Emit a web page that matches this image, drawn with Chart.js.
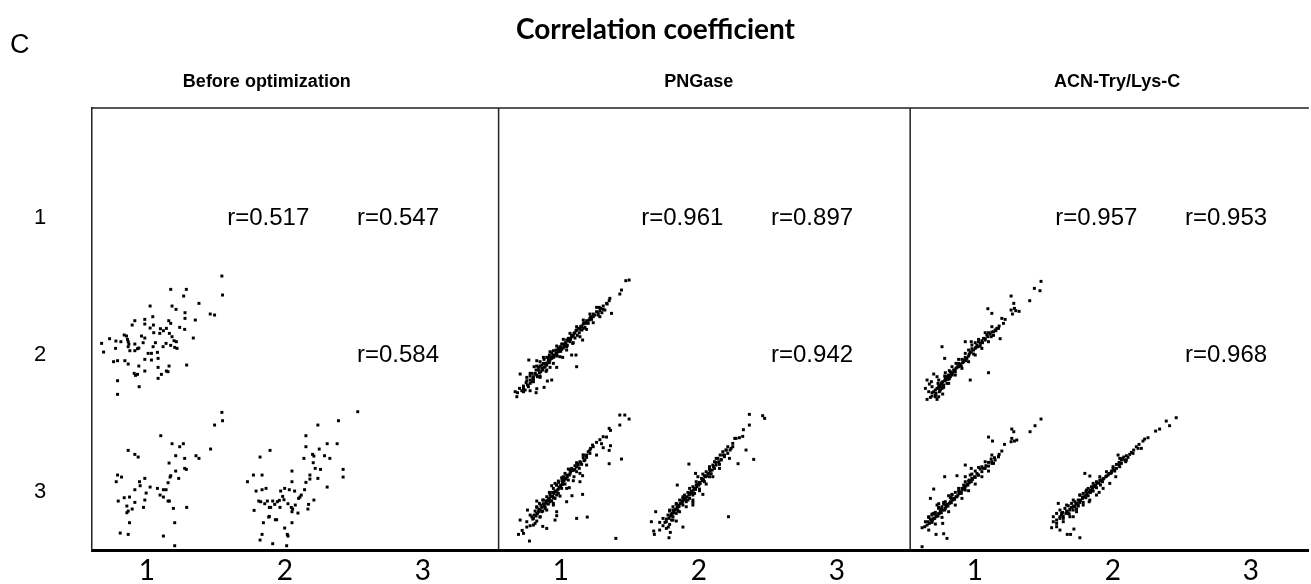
<!DOCTYPE html>
<html>
<head>
<meta charset="utf-8">
<script src="https://cdn.jsdelivr.net/npm/chart.js@4/dist/chart.umd.min.js"></script>
<style>
  html, body { margin: 0; padding: 0; background: #fff; overflow: hidden; }
</style>
</head>
<body>
<canvas id="corr" width="1311" height="584"></canvas>
<script>
// panels and replicate labels
const panels = ["Before optimization", "PNGase", "ACN-Try/Lys-C"];
const replicates = ["1", "2", "3"];
// r for pairs (1,2), (1,3), (2,3) in each panel
const rBefore = [0.517, 0.547, 0.584];
const rPNGase = [0.961, 0.897, 0.942];
const rACN = [0.957, 0.953, 0.968];

// scatter values (arbitrary intensity units) read from each lower cell
const before21 = [[38.2,37.2],[38.4,31.5],[22.8,33.2],[27.5,33.2],[26.7,31.2],[31.3,29.0],[16.6,28.2],[23.2,28.2],[24.4,27.2],[27.1,26.2],[27.1,24.5],[34.7,25.8],[36.0,25.5],[17.4,25.0],[30.2,24.0],[12.0,23.8],[15.0,24.2],[22.2,23.8],[22.8,23.0],[11.2,22.5],[15.0,22.8],[17.6,22.5],[16.6,21.6],[19.7,21.4],[21.5,21.5],[25.5,21.8],[27.0,21.2],[20.6,20.8],[17.7,20.2],[19.5,20.0],[22.4,20.0],[8.8,19.5],[9.5,19.2],[23.2,19.0],[14.0,19.2],[15.0,18.6],[29.6,18.6],[4.4,18.4],[6.3,17.7],[9.8,18.2],[10.0,17.5],[7.8,17.5],[10.2,16.8],[12.0,16.8],[18.2,17.2],[21.4,17.0],[23.8,17.8],[24.5,17.5],[2.0,17.0],[10.0,16.0],[13.2,15.6],[14.5,17.2],[17.5,16.0],[20.5,16.0],[22.8,16.4],[24.0,15.8],[24.7,15.5],[6.2,15.5],[10.5,14.8],[12.0,14.8],[12.8,15.4],[16.0,14.0],[17.0,14.0],[18.8,14.3],[2.6,14.4],[15.0,12.2],[17.0,12.0],[19.0,12.5],[5.6,11.5],[6.8,11.8],[9.0,11.8],[10.0,10.8],[19.0,9.8],[22.3,10.2],[27.6,10.5],[13.2,10.2],[15.0,8.7],[11.8,8.0],[12.2,7.4],[12.8,7.7],[20.0,7.7],[21.5,8.7],[22.0,8.5],[19.0,6.5],[6.8,5.8],[13.3,4.0],[6.8,1.7]];
const before31 = [[35.2,41.3],[35.4,38.8],[33.0,37.5],[16.8,34.3],[20.2,31.9],[23.6,31.9],[22.5,31.0],[31.8,30.3],[7.0,29.9],[9.0,28.7],[10.0,27.9],[21.3,28.3],[24.0,27.5],[27.4,28.3],[28.3,27.5],[19.3,26.1],[24.0,24.5],[24.5,24.2],[21.3,23.7],[19.8,22.3],[19.6,21.9],[22.2,21.5],[3.8,22.5],[5.0,21.9],[3.4,20.5],[10.4,20.5],[12.0,21.5],[10.6,19.3],[13.6,18.9],[15.8,18.5],[19.0,20.2],[17.6,18.1],[18.4,18.1],[9.0,18.1],[12.4,17.1],[16.6,16.5],[17.6,15.9],[4.0,14.7],[5.8,15.7],[7.4,15.9],[9.0,14.3],[12.0,15.0],[19.0,14.7],[19.4,14.7],[6.6,13.2],[8.2,12.3],[11.6,12.8],[20.6,12.5],[24.6,12.8],[7.0,11.7],[6.6,11.2],[7.4,8.2],[21.0,8.2],[4.6,5.1],[7.0,4.7],[17.6,4.2],[21.0,1.3]];
const before32 = [[35.6,41.5],[29.8,38.8],[23.6,37.5],[20.0,34.3],[9.2,29.9],[6.2,27.9],[20.0,31.0],[24.0,30.3],[26.4,31.9],[29.4,31.9],[19.4,27.5],[22.0,28.7],[22.4,28.2],[25.6,28.3],[27.2,27.5],[22.2,26.2],[22.8,24.5],[24.4,24.2],[31.2,24.2],[15.8,23.7],[4.2,22.5],[6.8,22.5],[21.2,22.5],[21.2,21.3],[23.6,21.5],[31.2,21.9],[2.4,20.5],[15.8,20.5],[20.0,20.3],[19.6,18.1],[26.4,18.9],[5.0,17.7],[6.8,18.1],[8.0,18.5],[12.4,17.7],[13.6,18.5],[15.0,18.1],[16.6,17.7],[18.6,16.5],[18.2,15.9],[17.8,15.5],[5.8,14.7],[6.4,14.5],[8.4,14.7],[10.0,14.7],[11.4,14.5],[12.0,14.9],[13.0,16.1],[13.4,15.1],[7.6,13.9],[10.6,13.7],[9.4,12.8],[9.0,12.8],[12.2,12.8],[14.6,13.9],[15.6,12.8],[16.0,12.3],[16.8,13.5],[20.8,13.7],[22.4,15.0],[4.4,11.9],[20.6,12.3],[15.8,11.5],[17.6,11.1],[9.0,10.1],[8.8,9.9],[10.8,9.1],[11.2,9.1],[15.8,8.2],[7.2,8.2],[13.6,6.6],[14.4,4.7],[14.6,4.2],[6.8,4.7],[6.2,3.0],[10.0,1.9],[14.2,1.3]];
const pngase21 = [[37.8,36.0],[36.8,35.8],[35.5,33.0],[35.0,31.8],[32.0,30.5],[31.8,29.8],[31.2,28.8],[30.0,28.2],[29.2,27.5],[28.8,27.8],[30.5,27.0],[32.5,26.0],[29.6,26.2],[28.5,25.5],[27.0,25.8],[26.2,25.0],[25.8,24.0],[26.5,24.2],[25.0,23.8],[24.8,23.0],[24.0,22.8],[23.2,22.0],[24.5,21.8],[22.5,21.5],[23.6,21.0],[21.8,20.8],[22.8,20.2],[21.2,20.0],[22.2,19.4],[20.5,19.4],[21.5,18.6],[19.8,18.5],[23.8,18.0],[19.0,18.0],[20.0,17.5],[18.6,17.2],[17.8,16.8],[19.2,16.4],[17.0,16.0],[18.0,15.6],[16.5,15.5],[15.8,15.0],[17.2,14.6],[15.0,14.8],[14.5,14.2],[16.0,13.8],[13.8,13.5],[17.8,12.8],[20.5,13.5],[21.8,13.5],[15.0,12.8],[13.0,12.8],[14.0,12.0],[12.2,12.2],[7.6,12.0],[10.0,11.8],[11.0,11.5],[13.2,11.2],[11.5,10.5],[12.5,10.0],[14.0,9.8],[16.0,9.8],[10.5,9.8],[9.2,10.0],[9.8,9.0],[11.2,8.5],[12.8,8.6],[22.0,10.0],[8.5,8.0],[10.0,7.5],[7.0,6.8],[8.8,6.5],[11.0,6.8],[5.0,7.8],[14.5,6.0],[13.2,5.7],[8.0,5.0],[7.2,4.5],[6.0,4.2],[12.2,3.8],[10.0,3.4],[4.8,3.5],[5.5,2.8],[3.5,2.5],[4.2,2.2],[6.5,3.0],[8.0,2.8],[9.8,2.2],[4.0,1.0],[20.5,19.0],[19.5,17.8],[18.5,16.5],[17.5,15.2],[16.5,14.5],[15.5,13.5],[14.5,12.5],[13.5,12.0],[12.5,11.0],[11.5,9.5],[10.5,9.0],[9.5,8.0],[9.0,7.0],[8.0,6.0],[6.8,5.2],[24.0,21.5],[25.5,23.0],[27.5,25.5],[28.5,26.2],[30.0,27.2],
  [6.0,3.5],[7.5,4.0],[8.5,5.5],[9.0,6.2],[10.2,7.0],[10.8,8.2],[11.8,9.0],[12.2,9.8],[13.0,10.5],[13.8,11.2],[14.2,12.8],[15.2,13.0],[15.8,14.2],[16.8,15.0],[17.2,15.8],[18.2,16.0],[18.8,17.0],[19.5,18.5],[20.2,18.2],[21.0,19.2],[21.5,20.2],[22.0,21.0],[23.0,21.2],[23.5,22.2],[24.2,23.2],[25.2,23.5],[26.0,24.5],[27.0,25.0],[28.0,26.5],[29.0,26.8],[11.0,10.2],[12.0,11.0],[13.5,12.8],[14.8,13.5],[16.2,13.2],[17.5,16.8],[19.0,16.0],[20.8,17.0],[9.5,7.8],[8.0,7.2],
  [10.0,10.2],[11.0,7.2],[12.0,12.8],[13.0,9.0],[14.0,14.5],[15.0,11.0],[16.0,16.2],[17.0,13.0],[18.0,18.2],[19.0,15.0],[20.0,20.0],[21.0,17.2],[22.0,22.0],[23.0,19.0],[24.0,24.0],[25.0,21.2],[26.0,25.8],[27.0,23.2],[28.0,27.8],[29.0,25.0],[8.0,8.0],[9.0,5.5],[7.0,5.8],[6.0,2.5],[31.0,29.0]];
const pngase31 = [[35.0,40.5],[36.5,40.5],[37.8,39.3],[35.0,37.5],[31.8,36.5],[32.2,35.9],[31.0,33.9],[29.0,33.1],[28.0,32.3],[29.5,31.9],[26.8,31.5],[30.0,30.7],[32.2,31.3],[31.8,29.9],[26.2,30.5],[25.5,29.5],[25.0,28.5],[24.0,27.7],[24.5,27.0],[23.0,26.5],[23.5,25.7],[22.2,26.0],[21.5,25.3],[22.8,24.5],[21.0,23.9],[22.0,23.5],[19.5,24.3],[20.0,22.9],[19.0,22.5],[21.2,22.0],[18.0,22.0],[23.8,22.3],[18.6,21.3],[17.6,20.9],[23.0,20.5],[16.6,20.3],[17.8,19.7],[17.2,19.0],[16.0,19.5],[14.5,19.3],[16.5,18.3],[15.5,17.7],[19.8,18.7],[14.8,17.3],[14.0,16.5],[16.0,16.5],[20.6,16.3],[23.8,16.7],[15.0,15.7],[13.5,15.5],[12.8,14.7],[14.0,14.5],[10.0,14.7],[12.0,13.9],[15.0,13.5],[11.2,13.5],[12.5,12.5],[10.6,12.3],[11.8,11.7],[16.0,11.5],[10.0,11.0],[9.2,10.5],[11.0,9.9],[16.0,10.3],[8.8,9.3],[10.0,8.7],[9.5,8.0],[7.2,12.0],[5.0,9.0],[8.0,7.3],[7.0,6.9],[11.8,7.1],[13.0,6.5],[5.6,5.9],[4.5,4.7],[7.8,2.7],[22.0,9.5],[25.2,9.9],[31.8,25.9],[35.5,27.3],[33.8,3.5],[15.5,9.0],[19.0,14.5],[20.5,24.5],[18.5,23.0],[17.5,21.7],[16.5,20.7],[15.5,20.0],[15.0,18.5],[13.8,17.3],[13.0,16.0],[11.8,15.0],[10.8,14.0],[10.0,13.0],[9.5,11.7],[8.5,10.0],[24.0,28.5],[26.0,30.0],
  [9.0,9.5],[9.8,10.2],[10.5,11.5],[11.0,12.0],[11.5,12.8],[12.2,13.2],[12.8,14.0],[13.2,14.8],[13.8,15.2],[14.2,16.0],[14.8,16.2],[15.2,17.0],[15.8,17.5],[16.2,18.0],[16.8,18.8],[17.2,19.5],[17.8,20.2],[18.2,20.8],[18.8,21.5],[19.2,22.0],[19.8,22.5],[20.2,23.5],[20.8,24.0],[21.5,24.2],[22.0,25.0],[22.5,25.5],[23.2,26.2],[24.2,26.8],[25.0,27.8],[26.0,29.0],[10.2,11.0],[11.5,11.5],[12.5,13.0],[13.5,13.8],[14.5,14.8],[15.5,15.5],[16.5,17.0],[17.5,18.5],[18.5,19.8],[19.5,21.0],
  [10.0,12.8],[11.0,10.0],[12.0,15.0],[13.0,12.0],[14.0,17.2],[15.0,14.0],[16.0,19.5],[17.0,16.2],[18.0,21.8],[19.0,18.5],[20.0,24.0],[21.0,20.8],[22.0,26.2],[23.0,23.0],[24.0,28.5],[25.0,25.5],[27.0,31.0],[28.0,28.5],[8.0,10.5],[9.0,7.5],[7.0,8.5],[6.0,5.0],[30.0,34.0]];
const pngase32 = [[32.0,40.7],[36.0,40.3],[36.6,39.5],[32.0,37.5],[30.2,36.1],[30.0,34.1],[27.6,33.5],[29.0,33.7],[27.0,31.0],[25.5,31.0],[25.0,30.0],[26.2,30.0],[24.0,29.5],[24.5,28.5],[23.2,28.5],[22.5,27.5],[23.5,27.0],[22.0,26.3],[23.0,25.7],[21.0,25.5],[21.5,24.5],[20.0,24.3],[20.5,22.9],[19.0,23.5],[18.5,22.3],[20.0,22.0],[17.6,21.5],[16.5,22.0],[15.8,23.0],[18.5,20.5],[17.0,20.3],[16.0,19.5],[15.0,19.0],[17.0,18.3],[14.5,17.7],[13.5,17.3],[15.5,17.0],[18.0,16.7],[12.5,16.5],[12.0,15.5],[14.0,15.5],[11.0,15.0],[13.0,14.5],[11.5,14.0],[10.0,13.7],[15.0,13.5],[10.2,12.5],[9.0,13.0],[9.2,11.5],[8.0,11.7],[10.0,11.0],[7.5,10.5],[9.0,10.0],[7.0,9.3],[8.6,9.0],[6.6,8.3],[8.0,7.7],[10.0,8.7],[6.0,7.3],[7.6,6.9],[12.0,6.9],[5.0,8.3],[2.5,8.5],[3.8,11.5],[3.2,5.7],[3.4,4.7],[7.8,3.7],[8.2,5.3],[10.3,19.5],[13.8,25.8],[31.0,30.0],[28.6,25.9],[33.3,27.2],[25.7,10.0],[15.0,14.3],[27.0,32.0],[19.5,23.0],[18.0,21.3],[16.5,19.7],[15.5,18.5],[14.0,16.7],[12.8,15.7],[11.8,14.7],[10.8,13.5],[9.5,12.0],[8.5,10.7],[21.5,26.5],[24.0,28.5],
  [7.0,8.5],[7.8,9.5],[8.2,10.2],[8.8,11.0],[9.3,11.2],[9.8,12.2],[10.3,12.8],[10.8,13.0],[11.2,14.0],[11.8,14.2],[12.2,15.0],[12.8,15.2],[13.2,16.0],[13.8,16.5],[14.2,17.0],[14.8,17.2],[15.2,18.0],[15.8,18.2],[16.2,19.0],[16.8,19.5],[17.2,20.0],[17.8,20.8],[18.2,21.0],[18.8,22.0],[19.2,22.2],[19.8,23.0],[20.2,23.8],[20.8,24.0],[21.2,25.0],[22.0,25.5],[22.8,26.5],[23.5,27.2],[24.5,28.0],[25.5,29.0],[26.5,30.5],[9.0,12.0],[10.5,11.8],[12.0,13.5],[13.5,15.0],[15.0,16.5],
  [8.0,12.0],[9.0,9.0],[10.0,14.0],[11.0,11.5],[12.0,16.0],[13.0,13.0],[14.0,18.5],[15.0,15.0],[16.0,20.5],[17.0,17.8],[18.0,22.8],[19.0,19.8],[20.0,25.0],[21.0,22.0],[22.0,27.5],[23.0,24.5],[25.0,30.0],[26.0,27.5],[6.0,9.5],[7.0,6.5],[5.0,6.0],[28.0,33.5]];
const acn21 = [[38.8,35.6],[36.8,33.5],[38.5,32.8],[35.4,29.8],[29.8,31.2],[30.6,29.0],[30.8,27.5],[29.8,27.0],[31.2,26.8],[32.2,26.6],[30.2,25.8],[22.8,27.4],[24.0,26.0],[28.0,24.2],[27.5,23.0],[26.2,22.2],[25.0,21.0],[24.0,20.4],[23.0,20.2],[26.5,18.4],[24.5,19.4],[23.8,19.0],[22.5,19.5],[22.0,18.4],[21.0,17.8],[20.0,17.5],[19.0,17.2],[17.8,17.5],[16.0,17.5],[20.5,16.2],[19.2,15.8],[18.0,15.4],[17.0,15.0],[9.0,16.0],[18.5,13.8],[17.0,13.2],[16.0,12.8],[15.0,12.2],[16.2,11.8],[14.0,11.0],[14.8,10.2],[13.5,9.8],[12.5,9.0],[13.0,8.5],[11.5,8.5],[12.0,7.5],[10.8,7.2],[10.0,6.8],[11.2,6.4],[9.8,5.8],[9.0,5.2],[10.5,5.0],[8.5,4.5],[9.5,3.8],[8.0,3.5],[7.0,3.0],[8.2,2.5],[6.0,2.2],[7.0,1.5],[5.5,0.8],[8.0,1.0],[4.5,6.0],[4.0,3.5],[6.5,7.8],[7.5,7.0],[9.8,12.5],[17.5,6.0],[23.0,8.2],[5.8,5.5],[5.2,4.8],[9.2,1.8],[7.5,0.2],[4.5,0.2],[19.5,16.5],[17.5,14.2],[15.5,11.5],[14.0,10.0],[11.8,8.0],[10.2,6.2],[8.8,4.0],[21.5,18.5],[25.5,21.5],
  [6.5,2.5],[7.5,3.5],[8.0,4.2],[8.8,5.0],[9.2,5.5],[10.0,6.0],[10.5,7.0],[11.0,7.5],[11.5,7.0],[12.2,8.2],[12.8,9.0],[13.2,9.5],[13.8,10.2],[14.5,10.8],[15.2,11.2],[15.8,12.0],[16.5,12.5],[17.2,13.8],[17.8,14.5],[18.5,15.0],[19.0,15.5],[19.8,16.0],[20.5,17.0],[21.2,17.2],[22.0,18.0],[22.8,19.0],[23.5,19.8],[24.5,20.5],[25.2,20.8],[26.0,21.5],[7.2,2.0],[8.5,3.0],[9.5,4.5],[10.8,6.2],[12.0,7.8],[6.0,1.2],[7.8,5.0],[9.8,7.2],[11.2,8.8],[13.2,11.0],
  [8.0,6.0],[9.0,3.5],[10.0,8.2],[11.0,5.0],[12.0,10.0],[13.0,7.5],[14.0,12.2],[15.0,9.5],[16.0,14.0],[17.0,11.5],[18.0,16.5],[19.0,13.5],[20.0,18.2],[21.0,15.5],[22.0,20.2],[23.0,17.5],[24.0,22.0],[6.0,4.0],[7.0,1.0],[5.0,2.5],[27.0,24.5]];
const acn31 = [[38.8,39.3],[37.0,37.3],[35.5,35.5],[30.0,36.3],[30.6,35.5],[23.0,33.9],[24.2,32.7],[30.0,33.5],[30.8,32.7],[29.8,32.5],[31.5,33.0],[27.8,31.7],[27.0,29.7],[26.2,28.7],[24.8,27.7],[23.8,27.3],[24.5,26.0],[23.0,26.3],[22.2,25.3],[23.0,23.7],[21.0,25.0],[20.5,24.3],[19.0,23.7],[17.8,24.5],[16.0,25.5],[19.8,22.5],[18.8,22.0],[18.0,21.5],[17.5,22.5],[16.0,22.0],[13.5,22.3],[9.8,22.0],[17.0,20.7],[16.5,19.7],[15.5,19.5],[15.0,18.5],[16.0,18.0],[14.0,17.7],[14.8,17.0],[13.0,17.3],[12.0,16.7],[13.5,16.0],[12.5,15.5],[11.0,16.3],[6.5,18.3],[11.5,14.5],[10.5,13.7],[9.5,14.3],[8.0,13.9],[9.0,13.0],[10.0,12.5],[8.5,11.7],[7.0,11.3],[5.5,15.5],[7.5,13.5],[8.0,11.0],[6.0,10.5],[5.0,10.0],[6.5,9.5],[4.8,8.5],[6.0,8.3],[3.8,7.0],[3.0,6.7],[9.2,8.0],[7.2,4.7],[9.5,4.9],[10.5,3.5],[3.0,1.0],[21.5,24.5],[19.5,23.0],[17.2,21.0],[15.8,19.0],[14.2,17.3],[11.8,15.5],[10.2,13.5],[8.8,12.3],[7.2,10.5],[5.5,9.3],[24.0,26.5],[26.0,28.0],
  [4.5,7.5],[5.2,8.0],[5.8,8.8],[6.2,9.0],[6.8,9.5],[7.2,10.0],[7.8,10.2],[8.2,11.0],[8.8,11.2],[9.2,12.0],[9.8,12.0],[10.2,13.0],[10.8,13.2],[11.2,14.0],[11.8,14.2],[12.2,15.0],[12.8,15.2],[13.2,16.0],[13.8,16.5],[14.2,17.0],[14.8,17.5],[15.2,18.2],[15.8,18.5],[16.2,19.2],[16.8,19.5],[17.2,20.2],[17.8,20.5],[18.2,21.2],[19.0,21.8],[20.0,22.5],[21.0,23.5],[22.0,24.5],[23.0,25.2],[24.0,26.0],[25.0,27.0],[6.5,11.0],[8.0,12.5],[5.0,9.8],[9.5,13.8],[11.5,15.8],
  [6.0,10.8],[7.0,7.8],[8.0,12.8],[9.0,9.8],[10.0,14.5],[11.0,11.5],[12.0,16.5],[13.0,13.5],[14.0,18.5],[15.0,15.5],[16.0,20.5],[17.0,17.8],[18.0,22.8],[19.0,19.8],[20.0,24.8],[21.0,22.0],[22.0,26.5],[4.0,8.5],[5.0,6.0],[24.0,28.5],[26.0,28.0]];
const acn32 = [[39.0,39.7],[36.0,38.7],[37.0,37.3],[34.0,36.3],[32.8,35.7],[30.5,33.7],[29.5,33.3],[29.0,32.7],[27.8,31.7],[27.0,31.0],[28.5,30.5],[26.2,30.0],[25.5,29.3],[24.0,28.3],[23.2,27.9],[21.5,28.5],[22.5,27.0],[23.8,26.5],[21.8,26.3],[21.0,25.7],[22.0,25.0],[20.0,24.5],[20.5,23.7],[19.2,23.0],[20.8,22.0],[18.5,22.5],[17.8,22.0],[11.5,23.0],[13.0,22.2],[17.0,21.3],[16.0,21.0],[15.0,20.5],[16.2,19.5],[14.5,19.3],[13.5,19.0],[12.5,18.5],[14.0,17.7],[15.8,17.3],[11.8,17.5],[11.0,17.0],[12.5,16.3],[10.0,16.5],[10.8,15.5],[9.5,15.0],[11.0,14.3],[8.5,14.5],[7.5,14.0],[9.5,13.5],[8.0,13.0],[6.5,13.3],[3.5,14.0],[7.0,12.3],[5.5,12.5],[9.0,12.3],[4.8,11.3],[6.5,11.0],[3.0,11.0],[4.0,10.0],[8.0,10.0],[5.0,9.5],[2.0,8.5],[3.0,8.0],[1.5,6.7],[4.0,6.0],[6.2,4.7],[7.2,4.7],[8.2,6.3],[10.0,3.7],[12.8,14.5],[25.0,28.7],[22.8,27.5],[19.5,23.7],[16.8,20.5],[15.0,18.7],[13.2,17.3],[11.8,15.7],[10.0,14.3],[8.5,13.0],[6.0,11.7],[4.5,10.5],
  [4.0,9.5],[5.0,10.2],[5.8,11.0],[6.2,11.5],[7.0,12.0],[7.5,12.8],[8.2,13.2],[8.8,13.8],[9.2,14.0],[9.8,14.8],[10.2,15.0],[10.8,15.8],[11.2,16.0],[11.8,16.5],[12.2,17.0],[12.8,17.5],[13.2,18.0],[13.8,18.5],[14.2,19.0],[14.8,19.5],[15.2,20.0],[15.8,20.2],[16.5,21.0],[17.2,21.5],[18.0,22.2],[18.8,23.0],[19.5,23.2],[20.2,24.0],[21.0,24.5],[21.8,25.5],[22.5,26.0],[23.5,27.0],[24.5,27.8],[26.0,29.0],[27.5,30.5],[3.0,9.0],[4.5,11.0],[6.8,10.8],[8.0,12.0],[9.5,13.2],
  [4.0,12.0],[5.0,8.5],[6.0,13.5],[7.0,10.0],[8.0,15.0],[9.0,11.5],[10.0,16.5],[11.0,13.5],[12.0,18.0],[13.0,15.0],[14.0,20.0],[15.0,16.5],[16.0,22.0],[17.0,18.5],[18.0,23.5],[19.0,20.0],[20.0,25.0],[2.0,10.0],[3.0,7.0],[22.0,27.5],[24.0,27.0]];

// layout: where each cell's value box sits on the shared axes (left edge, bottom edge)
const cells = [
  { pts: before21, left: 0.6245, bottom: 2.3285 },
  { pts: before31, left: 0.6968, bottom: 3.4234 },
  { pts: before32, left: 1.6715, bottom: 3.4234 },
  { pts: pngase21, left: 3.5848, bottom: 2.3285 },
  { pts: pngase31, left: 3.5848, bottom: 3.4234 },
  { pts: pngase32, left: 4.5957, bottom: 3.4234 },
  { pts: acn21, left: 6.5451, bottom: 2.3285 },
  { pts: acn31, left: 6.5451, bottom: 3.4234 },
  { pts: acn32, left: 7.5199, bottom: 3.4234 }
];
const unitX = 0.02407, unitY = 0.02433;  // axis units per intensity unit
const rAll = [rBefore, rPNGase, rACN];
const panelDividers = [3.549, 6.531];

const datasets = cells.map(c => ({
  data: c.pts.map(p => ({ x: c.left + p[0] * unitX, y: c.bottom - p[1] * unitY })),
  pointStyle: "rect",
  pointRadius: 2.1,
  pointHoverRadius: 2.1,
  backgroundColor: "#000",
  borderWidth: 0
}));

const decor = {
  id: "decor",
  afterDatasetsDraw(chart) {
    const { ctx, chartArea: a, scales: { x, y } } = chart;
    ctx.save();
    ctx.strokeStyle = "#222";
    ctx.lineWidth = 1.5;
    ctx.beginPath();
    ctx.moveTo(a.left, a.top);
    ctx.lineTo(a.right, a.top);
    panelDividers.forEach(v => {
      const px = x.getPixelForValue(v);
      ctx.moveTo(px, a.top);
      ctx.lineTo(px, a.bottom);
    });
    ctx.stroke();

    // r values in upper cells
    ctx.fillStyle = "#000";
    ctx.font = "24px 'Liberation Sans', Arial, sans-serif";
    ctx.textAlign = "center";
    ctx.textBaseline = "middle";
    rAll.forEach((r, p) => {
      const off = 3 * p;
      ctx.fillText("r=" + r[0].toFixed(3), x.getPixelForValue(off + 1.88), y.getPixelForValue(1));
      ctx.fillText("r=" + r[1].toFixed(3), x.getPixelForValue(off + 2.82), y.getPixelForValue(1));
      ctx.fillText("r=" + r[2].toFixed(3), x.getPixelForValue(off + 2.82), y.getPixelForValue(2));
    });

    // panel headers
    ctx.font = "bold 18px 'Liberation Sans', Arial, sans-serif";
    const headerX = [1.87, 5.0, 8.03];
    panels.forEach((t, i) => ctx.fillText(t, x.getPixelForValue(headerX[i]), a.top - 26));

    // title and panel letter
    ctx.font = "bold 28px Lato, 'Open Sans', sans-serif";
    ctx.fillText("Correlation coefficient", chart.width / 2, 30);
    ctx.font = "27px 'Liberation Sans', Arial, sans-serif";
    ctx.textAlign = "left";
    ctx.fillText("C", 10, 46);
    ctx.restore();
  }
};

new Chart(document.getElementById("corr"), {
  type: "scatter",
  data: { datasets },
  options: {
    responsive: false,
    devicePixelRatio: 1,
    animation: false,
    events: [],
    layout: { padding: { top: 108, left: 34, right: 0, bottom: 0 } },
    plugins: { legend: { display: false }, tooltip: { enabled: false } },
    scales: {
      x: {
        type: "linear",
        min: 0.603,
        max: 9.42,
        grid: { display: false, drawTicks: false },
        border: { display: true, width: 3, color: "#000" },
        afterBuildTicks: s => { s.ticks = [1, 2, 3, 4, 5, 6, 7, 8, 9].map(v => ({ value: v })); },
        afterFit: s => { s.height = 34; },
        ticks: {
          autoSkip: false,
          maxRotation: 0,
          padding: 4,
          color: "#000",
          font: { family: "Lato, 'Open Sans', sans-serif", size: 28 },
          callback: v => replicates[(v - 1) % 3]
        }
      },
      y: {
        type: "linear",
        reverse: true,
        min: 0.197,
        max: 3.423,
        grid: { display: false, drawTicks: false },
        border: { display: true, width: 1.5, color: "#222" },
        afterBuildTicks: s => { s.ticks = [1, 2, 3].map(v => ({ value: v })); },
        afterFit: s => { s.width = 58; },
        ticks: {
          padding: 0,
          crossAlign: "far",
          color: "#000",
          font: { family: "'Liberation Sans', Arial, sans-serif", size: 22 },
          callback: v => replicates[v - 1]
        }
      }
    }
  },
  plugins: [decor]
});
</script>
</body>
</html>
